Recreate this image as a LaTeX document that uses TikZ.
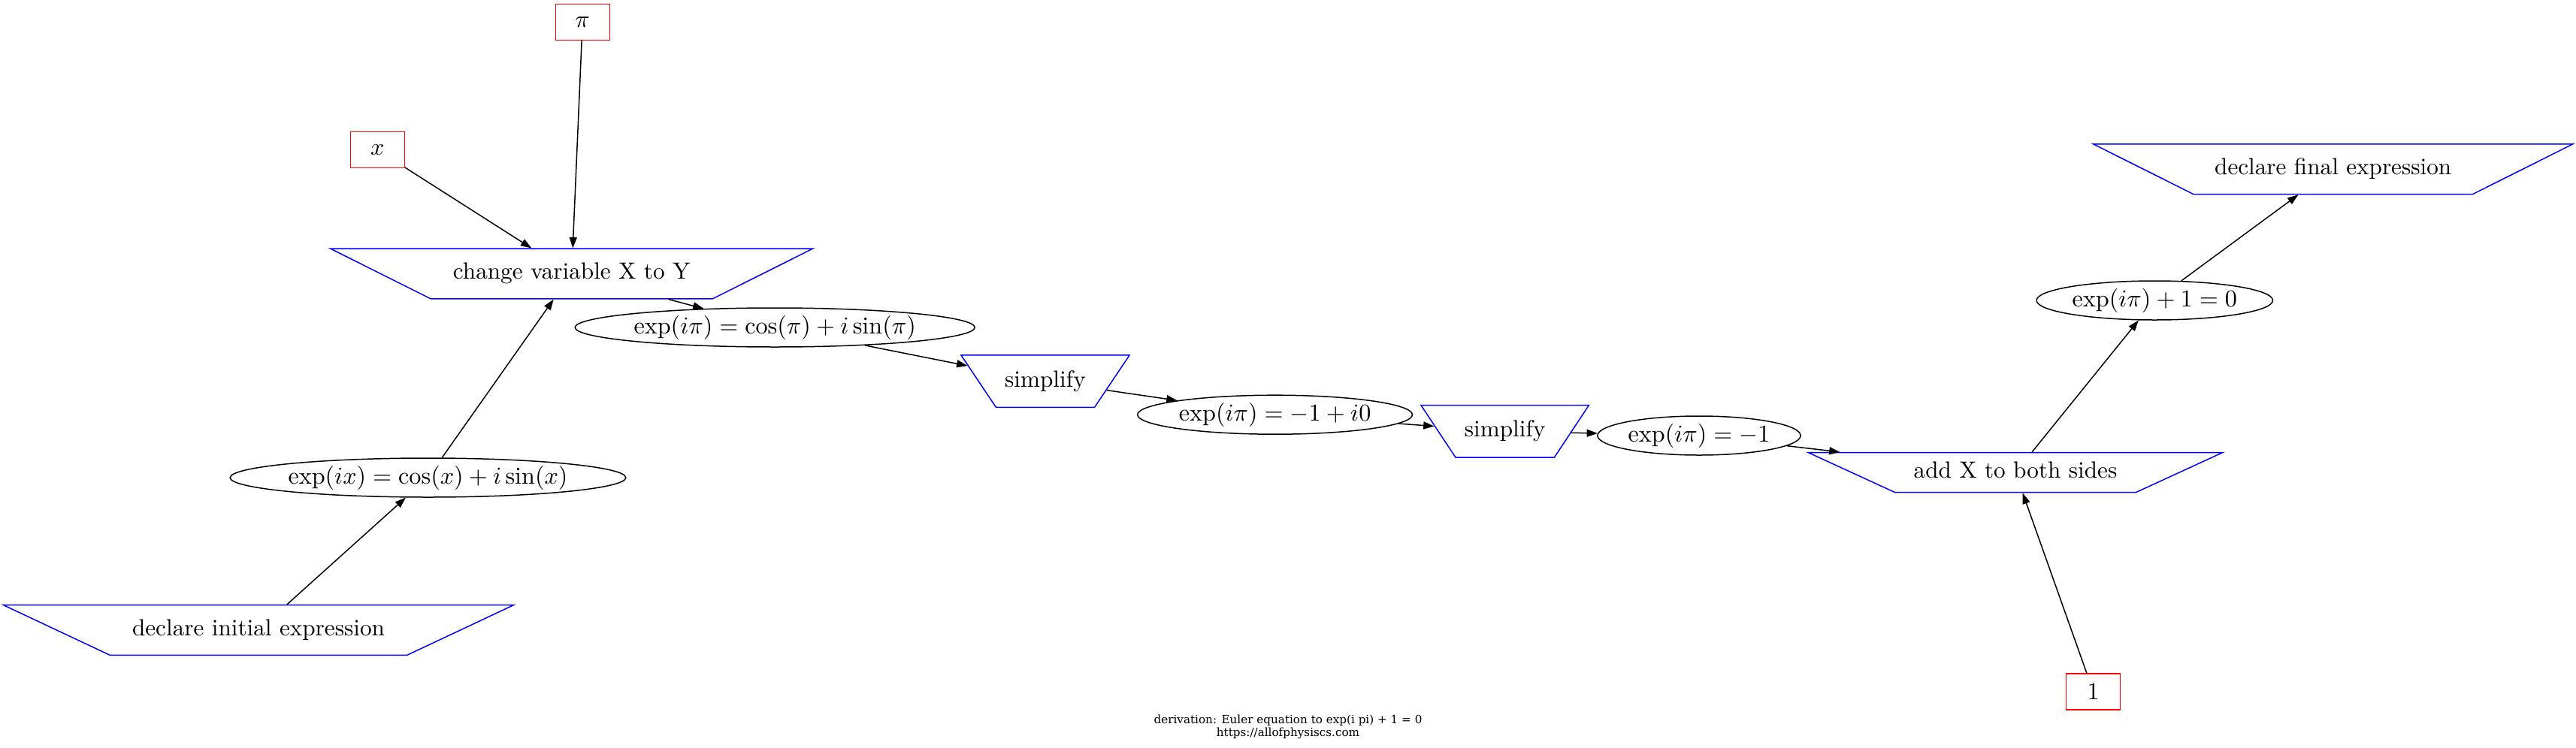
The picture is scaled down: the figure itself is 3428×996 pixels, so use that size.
\RequirePackage{fix-cm}
\documentclass[tikz,border=0pt]{standalone}
\usepackage{fontspec}
\usepackage{graphicx}
\newfontfamily\footfont{DejaVu Serif}
\usetikzlibrary{shapes.geometric,arrows.meta}

% text that does not widen its node
\newcommand{\lbl}[1]{\makebox[0pt]{\scalebox{1.56}{\strut #1}}}
\newcommand{\eqn}[1]{\makebox[0pt]{\scalebox{1.61}{$#1$}}}

\begin{document}
\begin{tikzpicture}[x=0.5pt,y=-0.5pt,
    font=\fontsize{10}{12}\selectfont,
    infer/.style={trapezium, shape border rotate=180, trapezium stretches=true,
                  trapezium stretches body=true, draw=blue, line width=0.75pt, inner xsep=0pt},
    expr/.style={ellipse, draw=black, line width=0.75pt, inner sep=0pt, minimum height=26pt},
    symb/.style={rectangle, draw=red, line width=0.6pt, inner sep=0pt,
                 minimum width=36pt, minimum height=24pt},
    link/.style={-{Triangle[length=7.2pt,width=5pt]}, line width=0.75pt}]

    \useasboundingbox (0,0) rectangle (3428,996);

    % Inference steps (height = strut + 2 inner ysep)
    \node[infer, minimum width=339.4pt, inner ysep=7.3pt, trapezium angle=25.2]
        (initdecl) at (344,839) {\lbl{declare initial expression}};
    \node[infer, minimum width=320.7pt, inner ysep=7.3pt, trapezium angle=26.6]
        (changevar) at (760.7,364.5) {\lbl{change variable X to Y}};
    \node[infer, minimum width=112pt, inner ysep=8pt, trapezium angle=56.2]
        (simpfirst) at (1391,507.7) {\lbl{simplify}};
    \node[infer, minimum width=111.7pt, inner ysep=8pt, trapezium angle=56.5]
        (simpsecond) at (2002.7,574.3) {\lbl{simplify}};
    \node[infer, minimum width=275.5pt, inner ysep=3.9pt, trapezium angle=24.7]
        (addboth) at (2682,629.2) {\lbl{add X to both sides}};
    \node[infer, minimum width=319pt, inner ysep=7.3pt, trapezium angle=26.6]
        (finaldecl) at (3104.7,225.2) {\lbl{declare final expression}};

    % Expressions
    \node[expr, minimum width=263.3pt] (eulerx) at (569.5,636) {\eqn{\exp(ix)=\cos(x)+i\sin(x)}};
    \node[expr, minimum width=266pt] (eulerpi) at (1031.2,436) {\eqn{\exp(i\pi)=\cos(\pi)+i\sin(\pi)}};
    \node[expr, minimum width=182.9pt] (expsum) at (1696.6,552.2) {\eqn{\exp(i\pi)=-1+i0}};
    \node[expr, minimum width=135.1pt] (expneg) at (2261,580) {\eqn{\exp(i\pi)=-1}};
    \node[expr, minimum width=157.2pt] (expfinal) at (2867.3,400) {\eqn{\exp(i\pi)+1=0}};

    % Symbols
    \node[symb] (sympi) at (775.2,29.2) {\eqn{\pi}};
    \node[symb] (symx) at (502.4,199.7) {\eqn{x}};
    \node[symb] (symone) at (2785.6,921) {\eqn{1}};

    % Connectors
    \foreach \a/\b in {initdecl/eulerx, eulerx/changevar, symx/changevar, sympi/changevar,
                       changevar/eulerpi, eulerpi/simpfirst, simpfirst/expsum, expsum/simpsecond,
                       simpsecond/expneg, expneg/addboth, symone/addboth, addboth/expfinal,
                       expfinal/finaldecl} {
        \draw[link] (\a) -- (\b);
    }

    \node[font=\footfont\fontsize{7.6}{8.85}\selectfont, align=center] (caption) at (1714,968)
        {derivation: Euler equation to exp(i pi) + 1 = 0\\https://allofphysiscs.com};
\end{tikzpicture}
\end{document}
